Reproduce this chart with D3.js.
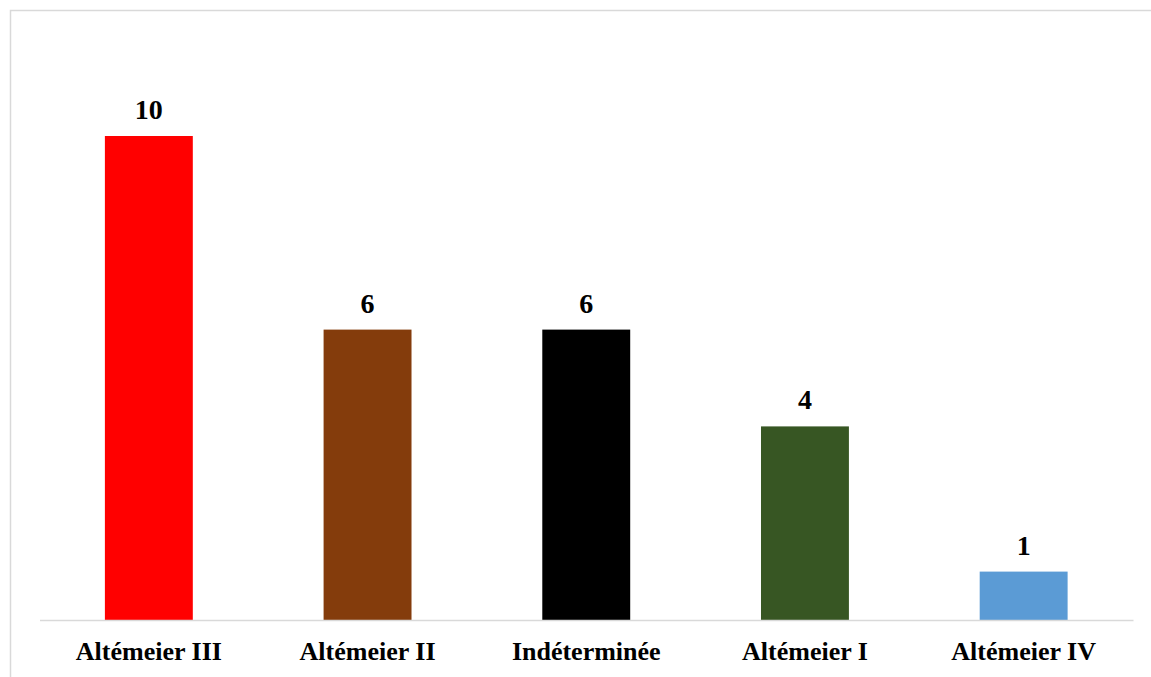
<!DOCTYPE html>
<html>
<head>
<meta charset="utf-8">
<script src="https://cdn.jsdelivr.net/npm/d3@7"></script>
<style>
  html, body { margin: 0; padding: 0; background: #ffffff; }
  svg { display: block; }
</style>
</head>
<body>
<script>
// Répartition des cas selon la classification d'Altémeier
const categories = ["Altémeier III", "Altémeier II", "Indéterminée", "Altémeier I", "Altémeier IV"];
const values = [10, 6, 6, 4, 1];
const colors = ["#ff0000", "#843c0c", "#000000", "#375623", "#5b9bd5"];

const W = 1151, H = 677;
const svg = d3.select("body").append("svg").attr("width", W).attr("height", H);

// chart frame
svg.append("rect")
  .attr("x", 10.5).attr("y", 10.5)
  .attr("width", W + 20).attr("height", H + 20)
  .attr("fill", "none").attr("stroke", "#d9d9d9").attr("stroke-width", 1.5);

const x = d3.scaleBand().domain(categories).range([39.5, 1133]).paddingInner(0.598).paddingOuter(0.299);
const y = d3.scaleLinear().domain([0, 10]).range([620, 136]);

// bars
svg.selectAll("rect.bar").data(categories).join("rect")
  .attr("class", "bar")
  .attr("x", d => x(d))
  .attr("width", x.bandwidth())
  .attr("y", (d, i) => y(values[i]))
  .attr("height", (d, i) => y(0) - y(values[i]))
  .attr("fill", (d, i) => colors[i]);

// category axis
const axis = svg.append("g").attr("transform", `translate(0,${y(0)})`)
  .call(d3.axisBottom(x).tickSize(0).tickPadding(0));
axis.select(".domain").attr("stroke", "#d9d9d9").attr("stroke-width", 1.5);
axis.selectAll(".tick text")
  .attr("dy", null).attr("y", 40)
  .attr("font-family", "'Liberation Serif', 'Times New Roman', serif")
  .attr("font-weight", "bold").attr("font-size", 26).attr("fill", "#000");

// value labels
svg.selectAll("text.val").data(categories).join("text")
  .attr("class", "val")
  .attr("x", d => x(d) + x.bandwidth() / 2)
  .attr("y", (d, i) => y(values[i]) - 17)
  .attr("text-anchor", "middle")
  .attr("font-family", "'Liberation Serif', 'Times New Roman', serif")
  .attr("font-weight", "bold").attr("font-size", 28).attr("fill", "#000")
  .text((d, i) => values[i]);
</script>
</body>
</html>
